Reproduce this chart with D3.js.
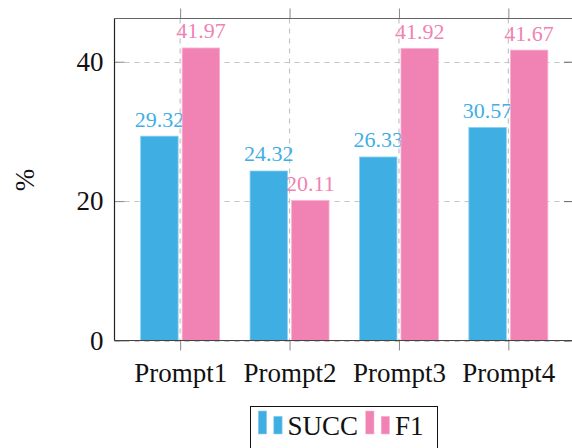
<!DOCTYPE html>
<html>
<head>
<meta charset="utf-8">
<script src="https://cdn.jsdelivr.net/npm/d3@7"></script>
<style>
  html, body { margin: 0; padding: 0; background: #fff; }
  svg { display: block; }
</style>
</head>
<body>
<svg id="chart" width="572" height="448"></svg>
<script>
// Data
const categories = ["Prompt1", "Prompt2", "Prompt3", "Prompt4"];
const seriesNames = ["SUCC", "F1"];
const succValues = [29.32, 24.32, 26.33, 30.57];
const f1Values = [41.97, 20.11, 41.92, 41.67];
const yTicks = [0, 20, 40];

const seriesValues = [succValues, f1Values];
const colors = { SUCC: "#3fafe3", F1: "#f082b4" };
const strokes = { SUCC: "#8fd0ef", F1: "#f8b6d4" };
const serif = "'Liberation Serif', 'Times New Roman', serif";

const svg = d3.select("#chart").attr("font-family", serif);

// Plot frame
const plotLeft = 114.5, plotRight = 574, plotTop = 18.5, plotBottom = 340.5;

const x = d3.scalePoint().domain(categories).range([plotLeft, plotRight]).padding(0.6);
const xs = d3.scaleBand().domain(seriesNames).range([-39.5, 39.5]).paddingInner(0.0964);
const y = d3.scaleLinear().domain([0, 46.2]).range([plotBottom, plotTop]);

// Grid
const grid = svg.append("g").attr("stroke", "#c4c4c4").attr("stroke-width", 1.2)
  .attr("stroke-dasharray", "5,5");
grid.selectAll("line.h").data(yTicks).join("line")
  .attr("class", "h")
  .attr("x1", plotLeft).attr("x2", plotRight)
  .attr("y1", d => Math.round(y(d)) + 0.5).attr("y2", d => Math.round(y(d)) + 0.5);
grid.selectAll("line.v").data(categories).join("line")
  .attr("class", "v")
  .attr("x1", d => x(d)).attr("x2", d => x(d))
  .attr("y1", plotTop).attr("y2", plotBottom);

// Bars
const groups = svg.append("g").selectAll("g").data(seriesNames).join("g");
groups.each(function (name, si) {
  d3.select(this).selectAll("rect")
    .data(seriesValues[si].map((v, i) => ({ cat: categories[i], v })))
    .join("rect")
    .attr("x", d => x(d.cat) + xs(name))
    .attr("width", xs.bandwidth())
    .attr("y", d => y(d.v))
    .attr("height", d => y(0) - y(d.v))
    .attr("fill", colors[name])
    .attr("stroke", strokes[name])
    .attr("stroke-width", 0.8);
});

// Value labels
groups.each(function (name, si) {
  d3.select(this).selectAll("text")
    .data(seriesValues[si].map((v, i) => ({ cat: categories[i], v })))
    .join("text")
    .attr("x", d => x(d.cat) + xs(name) + xs.bandwidth() / 2)
    .attr("y", d => y(d.v) - 9.5)
    .attr("text-anchor", "middle")
    .attr("font-family", serif)
    .attr("font-size", 22)
    .attr("fill", colors[name])
    .text(d => d.v.toFixed(2));
});

// Axes
const axisColor = "#888";
const yAxis = svg.append("g").attr("transform", `translate(${plotLeft},0)`)
  .call(d3.axisLeft(y).tickValues(yTicks).tickSize(-10).tickPadding(11).tickFormat(d3.format("d")));
yAxis.attr("font-family", serif);
yAxis.select(".domain").remove();
yAxis.selectAll(".tick line").attr("stroke", axisColor);
yAxis.selectAll(".tick text").attr("font-size", 27).attr("fill", "#111");

const yAxisR = svg.append("g").attr("transform", `translate(${plotRight},0)`)
  .call(d3.axisRight(y).tickValues(yTicks).tickSize(-10).tickFormat(""));
yAxisR.select(".domain").remove();
yAxisR.selectAll(".tick line").attr("stroke", "#666");

const xAxis = svg.append("g").attr("transform", `translate(0,${plotBottom})`)
  .call(d3.axisBottom(x).tickSize(10).tickPadding(12));
xAxis.attr("font-family", serif);
xAxis.select(".domain").remove();
xAxis.selectAll(".tick line").attr("stroke", axisColor);
xAxis.selectAll(".tick text").attr("font-size", 27).attr("fill", "#111");

const xAxisT = svg.append("g").attr("transform", `translate(0,${plotTop})`)
  .call(d3.axisTop(x).tickSize(10).tickFormat(""));
xAxisT.select(".domain").remove();
xAxisT.selectAll(".tick line").attr("stroke", axisColor);

// Frame lines
svg.append("line").attr("x1", plotLeft).attr("x2", plotRight).attr("y1", plotTop).attr("y2", plotTop)
  .attr("stroke", "#666").attr("stroke-width", 1.2);
svg.append("line").attr("x1", plotLeft).attr("x2", plotRight).attr("y1", plotBottom).attr("y2", plotBottom)
  .attr("stroke", "#444").attr("stroke-width", 1.2);
svg.append("line").attr("x1", plotLeft).attr("x2", plotLeft).attr("y1", plotTop).attr("y2", plotBottom)
  .attr("stroke", "#222").attr("stroke-width", 1.2);

// Y axis title
svg.append("text")
  .attr("transform", "translate(34,180) rotate(-90)")
  .attr("text-anchor", "middle")
  .attr("font-family", serif)
  .attr("font-size", 27)
  .attr("fill", "#111")
  .text("%");

// Legend
const legend = svg.append("g");
legend.append("rect")
  .attr("x", 250.5).attr("y", 406.5).attr("width", 187).attr("height", 60)
  .attr("fill", "#fff").attr("stroke", "#111").attr("stroke-width", 1);
const legendItems = [
  { name: "SUCC", ix: 258.3, tx: 287.5 },
  { name: "F1", ix: 365.7, tx: 395 }
];
legendItems.forEach(it => {
  legend.append("rect").attr("x", it.ix).attr("y", 411).attr("width", 8.3).attr("height", 23)
    .attr("fill", colors[it.name]).attr("stroke", strokes[it.name]).attr("stroke-width", 0.6);
  legend.append("rect").attr("x", it.ix + 15.5).attr("y", 416.3).attr("width", 8.3).attr("height", 17.7)
    .attr("fill", colors[it.name]).attr("stroke", strokes[it.name]).attr("stroke-width", 0.6);
  legend.append("text").attr("x", it.tx).attr("y", 435)
    .attr("font-family", serif)
    .attr("font-size", 27).attr("fill", "#111").text(it.name);
});
</script>
</body>
</html>
